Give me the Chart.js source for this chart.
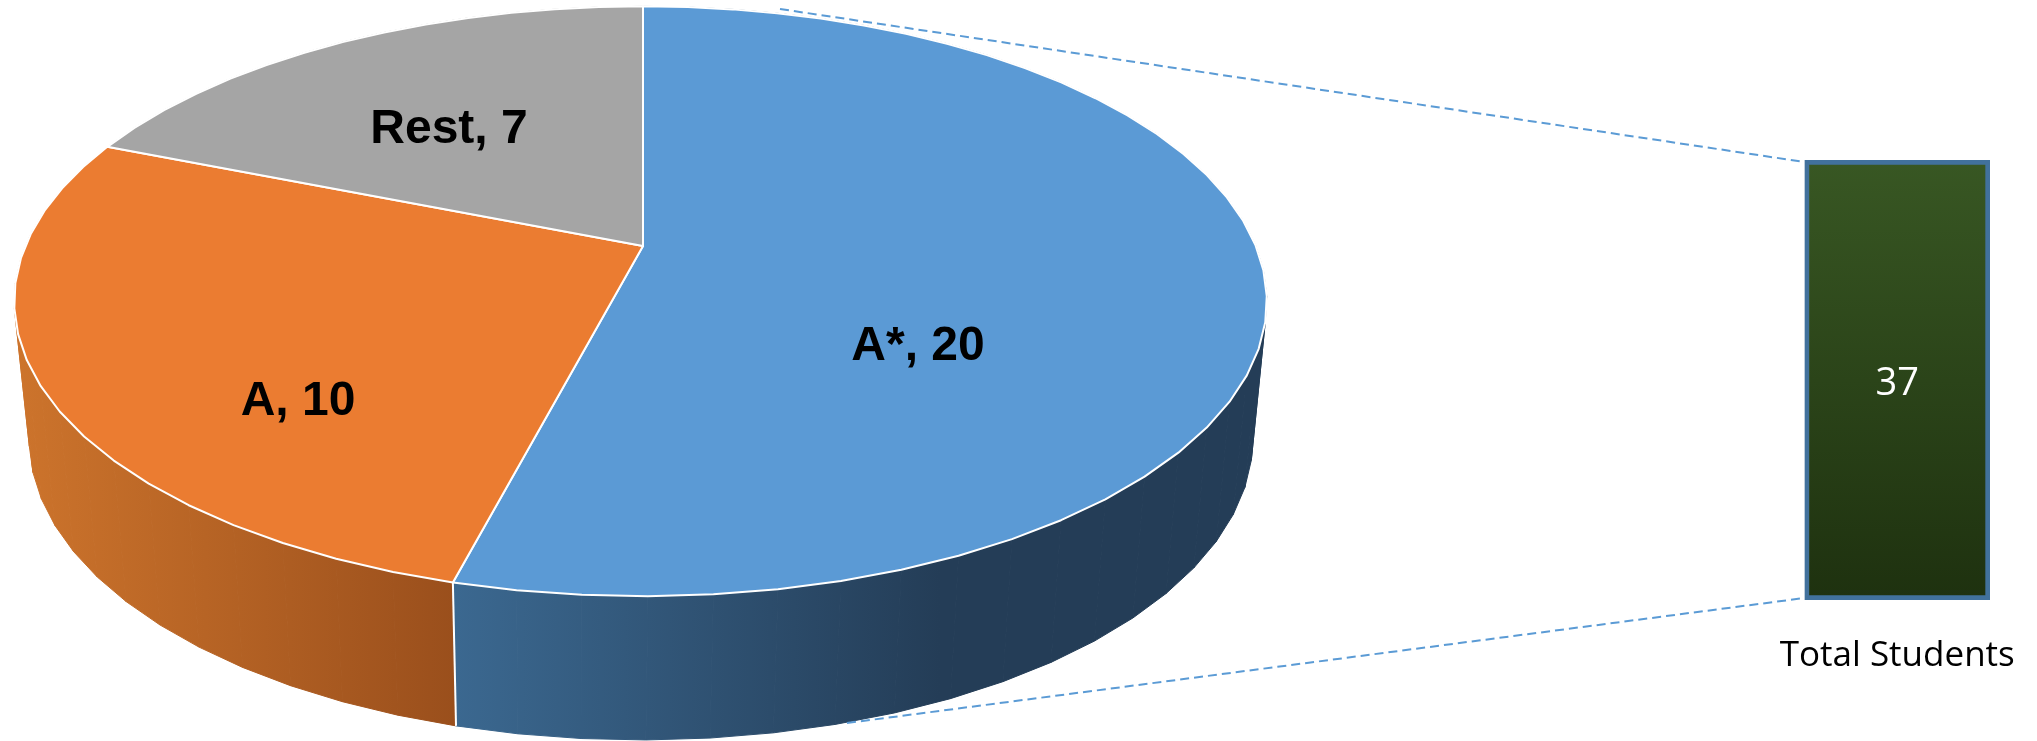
<!DOCTYPE html>
<html><head><meta charset="utf-8">
<style>html,body{margin:0;padding:0;background:#fff;overflow:hidden}canvas{position:absolute;left:0;top:0}</style>
<script src="https://cdn.jsdelivr.net/npm/chart.js@4"></script>
</head><body>
<canvas id="pie" width="2037" height="741"></canvas>
<canvas id="bar" width="2037" height="741"></canvas>
<script>
const categories = ['A*', 'A', 'Rest'];
const studentCounts = [20, 10, 7];
const totalLabels = ['Total Students'];
const totalValues = [37];
const sliceColors = ['#5b9ad5', '#eb7c31', '#a5a5a5'];

// perspective view of the pie: top face and bottom face of the disc
const K = -0.1874;
const TOP = {cx: 643, cy: 246, aL: 617.7, aR: 612.8, b: 284.6};
const BOT = {cx: 641, cy: 382.6, aL: 601, aR: 601, b: 290.4};
function project(face, angle) {
  const ux = Math.cos(angle), uy = Math.sin(angle), d = 1 + K * uy;
  return [face.cx + (ux < 0 ? face.aL : face.aR) * ux / d, face.cy + face.b * uy / d];
}
function wallGradient(ctx, i) {
  const stops = [
    [455, 940, '#3b6890', '#243d57'],
    [15, 455, '#cd742c', '#9a4f1c'],
    [15, 455, '#8a8a8a', '#6a6a6a']
  ][i];
  const g = ctx.createLinearGradient(stops[0], 0, stops[1], 0);
  g.addColorStop(0, stops[2]); g.addColorStop(1, stops[3]);
  return g;
}
const disc3d = {
  id: 'disc3d',
  beforeDatasetDraw(chart, args, opts) {
    const ctx = chart.ctx, arcs = chart.getDatasetMeta(args.index).data, STEP = Math.PI / 36;
    ctx.save();
    ctx.lineJoin = 'round';
    // walls
    [2, 1, 0].forEach(i => {
      const arc = arcs[i], g = wallGradient(ctx, i);
      const n = Math.ceil((arc.endAngle - arc.startAngle) / STEP);
      ctx.fillStyle = g; ctx.strokeStyle = g; ctx.lineWidth = 1;
      for (let s = 0; s < n; s++) {
        const a0 = arc.startAngle + (arc.endAngle - arc.startAngle) * s / n;
        const a1 = arc.startAngle + (arc.endAngle - arc.startAngle) * (s + 1) / n;
        const p = [project(TOP, a0), project(TOP, a1), project(BOT, a1), project(BOT, a0)];
        ctx.beginPath();
        p.forEach((q, j) => j ? ctx.lineTo(q[0], q[1]) : ctx.moveTo(q[0], q[1]));
        ctx.closePath(); ctx.fill(); ctx.stroke();
      }
    });
    // white edge between the visible walls
    const e = arcs[0].endAngle, t = project(TOP, e), b = project(BOT, e);
    ctx.strokeStyle = '#fff'; ctx.lineWidth = 2;
    ctx.beginPath(); ctx.moveTo(t[0], t[1]); ctx.lineTo(b[0], b[1]); ctx.stroke();
    // top faces
    arcs.forEach((arc, i) => {
      const n = Math.ceil((arc.endAngle - arc.startAngle) / STEP);
      ctx.beginPath(); ctx.moveTo(TOP.cx, TOP.cy);
      for (let s = 0; s <= n; s++) {
        const q = project(TOP, arc.startAngle + (arc.endAngle - arc.startAngle) * s / n);
        ctx.lineTo(q[0], q[1]);
      }
      ctx.closePath();
      ctx.fillStyle = arc.options.backgroundColor; ctx.fill();
      ctx.strokeStyle = '#fff'; ctx.lineWidth = 2; ctx.stroke();
    });
    // labels
    ctx.fillStyle = '#000'; ctx.font = opts.font;
    ctx.textAlign = 'center'; ctx.textBaseline = 'middle';
    arcs.forEach((arc, i) => {
      const pos = opts.anchors[i];
      ctx.fillText(chart.data.labels[i] + ', ' + chart.data.datasets[0].data[i], pos[0], pos[1]);
    });
    ctx.restore();
    return false;
  }
};
new Chart(document.getElementById('pie'), {
  type: 'pie',
  data: {labels: categories, datasets: [{data: studentCounts, backgroundColor: sliceColors}]},
  plugins: [disc3d],
  options: {
    responsive: false, animation: false,
    plugins: {
      legend: {display: false}, tooltip: {enabled: false},
      disc3d: {font: 'bold 48px "Liberation Sans"', anchors: [[918, 347], [298, 402], [449, 130]]}
    }
  }
});

const leaders = {
  id: 'leaders',
  beforeDatasetsDraw(chart, args, opts) {
    const ctx = chart.ctx, bar = chart.getDatasetMeta(0).data[0];
    const left = bar.x - bar.width / 2;
    ctx.save();
    ctx.strokeStyle = '#5b9bd5'; ctx.lineWidth = 2; ctx.setLineDash([9, 5]);
    ctx.beginPath(); ctx.moveTo(opts.upper[0], opts.upper[1]); ctx.lineTo(left, bar.y + 2); ctx.stroke();
    ctx.beginPath(); ctx.moveTo(opts.lower[0], opts.lower[1]); ctx.lineTo(left, bar.base - 2); ctx.stroke();
    ctx.restore();
  },
  afterDatasetsDraw(chart, args, opts) {
    const ctx = chart.ctx, bar = chart.getDatasetMeta(0).data[0];
    ctx.save();
    ctx.fillStyle = '#fff'; ctx.font = opts.font;
    ctx.textAlign = 'center'; ctx.textBaseline = 'middle';
    ctx.fillText(String(chart.data.datasets[0].data[0]), bar.x, (bar.y + bar.base) / 2 + 4);
    ctx.restore();
  }
};
const barCtx = document.getElementById('bar').getContext('2d');
const barFill = barCtx.createLinearGradient(0, 160, 0, 601);
barFill.addColorStop(0, '#385723');
barFill.addColorStop(1, '#1e310f');
new Chart(barCtx, {
  type: 'bar',
  data: {labels: totalLabels, datasets: [{
    data: totalValues, backgroundColor: barFill, borderColor: '#41719c', borderWidth: 5,
    borderSkipped: false, barPercentage: 1, categoryPercentage: 1
  }]},
  plugins: [leaders],
  options: {
    responsive: false, animation: false,
    layout: {padding: {left: 1804.5, right: 47, top: 160, bottom: 37}},
    scales: {
      y: {display: false, min: 0, max: 37},
      x: {
        grid: {display: false}, border: {display: false},
        afterFit(scale) { scale.paddingLeft = 0; scale.paddingRight = 0; },
        ticks: {color: '#000', font: {family: '"Open Sans"', size: 35}, maxRotation: 0, autoSkip: false, padding: 27}
      }
    },
    plugins: {
      legend: {display: false}, tooltip: {enabled: false},
      leaders: {font: '38px "Open Sans"', upper: [780, 9], lower: [847, 723]}
    }
  }
});
</script>
</body></html>
